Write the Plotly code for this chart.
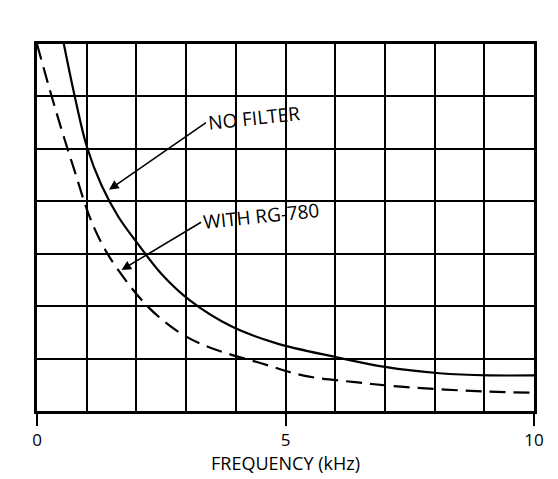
import plotly.graph_objects as go

# Data (x in kHz, y in grid units 0..7)
no_filter_x = [0.54, 0.76, 1.0, 1.3, 1.64, 2.06, 2.5, 3.09, 3.9, 4.79, 6.0, 7.0, 8.1, 9.1, 10.0]
no_filter_y = [7.0, 6.0, 5.05, 4.3, 3.7, 3.15, 2.62, 2.1, 1.62, 1.3, 1.03, 0.84, 0.72, 0.68, 0.68]

rg780_x = [0.0, 0.25, 0.5, 0.75, 1.04, 1.3, 1.61, 2.21, 2.86, 3.45, 4.51, 5.39, 6.4, 7.38, 9.05, 10.0]
rg780_y = [7.0, 6.15, 5.35, 4.6, 3.75, 3.2, 2.72, 2.01, 1.5, 1.22, 0.91, 0.67, 0.55, 0.46, 0.37, 0.35]

x_tick_vals = [0, 5, 10]
x_tick_text = ["0", "5", "10"]
x_title = "FREQUENCY (kHz)"
label_no_filter = "NO FILTER"
label_rg780 = "WITH RG-780"

FONT = "Open Sans"

fig = go.Figure()
fig.add_trace(go.Scatter(x=no_filter_x, y=no_filter_y, mode="lines",
                         line=dict(color="black", width=2.2, shape="spline", smoothing=1.0),
                         showlegend=False, hoverinfo="skip"))
fig.add_trace(go.Scatter(x=rg780_x, y=rg780_y, mode="lines",
                         line=dict(color="black", width=2.2, shape="spline", smoothing=1.0,
                                   dash="16px,8px"),
                         showlegend=False, hoverinfo="skip"))

fig.add_annotation(x=1.45, y=4.22, ax=3.4, ay=5.5, axref="x", ayref="y",
                   text=label_no_filter, xanchor="left", yanchor="middle",
                   showarrow=True, arrowhead=2, arrowsize=1.2, arrowwidth=1.6,
                   arrowcolor="black", textangle=-6,
                   font=dict(family=FONT, size=19, color="black"))
fig.add_annotation(x=1.7, y=2.69, ax=3.3, ay=3.6, axref="x", ayref="y",
                   text=label_rg780, xanchor="left", yanchor="middle",
                   showarrow=True, arrowhead=2, arrowsize=1.2, arrowwidth=1.6,
                   arrowcolor="black", textangle=-6,
                   font=dict(family=FONT, size=19, color="black"))

fig.update_xaxes(range=[0, 10], tickvals=x_tick_vals, ticktext=x_tick_text,
                 ticks="outside", ticklen=12, tickwidth=2, tickcolor="black",
                 showgrid=True, gridcolor="black", gridwidth=2.2,
                 minor=dict(dtick=1, showgrid=True, gridcolor="black", gridwidth=2.2, ticks=""),
                 showline=True, linecolor="black", linewidth=2.5, mirror=True,
                 zeroline=False,
                 tickfont=dict(family=FONT, size=17, color="black"),
                 title=dict(text=x_title, font=dict(family=FONT, size=18, color="black"),
                            standoff=4))
fig.update_yaxes(range=[0, 7], dtick=1, showticklabels=False, ticks="",
                 showgrid=True, gridcolor="black", gridwidth=2.2,
                 showline=True, linecolor="black", linewidth=2.5, mirror=True,
                 zeroline=False)

fig.update_layout(width=558, height=479,
                  margin=dict(l=29, r=32, t=36, b=76),
                  paper_bgcolor="white", plot_bgcolor="white",
                  font=dict(family=FONT, color="black"))

fig.write_html("out.html")
